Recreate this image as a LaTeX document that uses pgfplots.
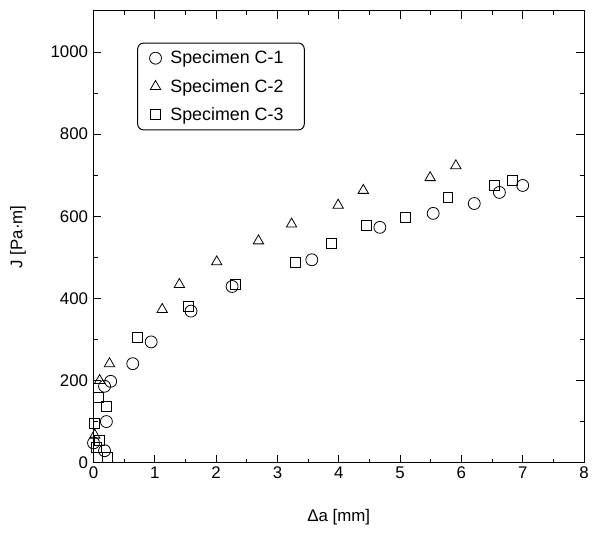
\documentclass[border=0pt]{standalone}
\usepackage{fontspec}
\setmainfont{Liberation Sans}
\usepackage{pgfplots}
\pgfplotsset{compat=1.18}
\begin{document}
\begin{tikzpicture}
\begin{axis}[
  scale only axis,
  width=493bp, height=454bp,
  xmin=0, xmax=8, ymin=0, ymax=1100,
  xtick={0,1,...,8}, ytick={0,200,...,1000},
  minor x tick num=1, minor y tick num=1,
  tick align=inside,
  major tick length=8bp, minor tick length=4bp,
  axis line style={line width=1pt},
  every tick/.style={black, line width=0.8pt},
  /pgf/number format/assume math mode=true,
  /pgf/number format/set thousands separator={},
  ticklabel style={font=\fontsize{17}{19}\selectfont},
  yticklabel style={xshift=-2bp},
  xticklabel style={yshift=-1bp},
  xlabel={Δa [mm]}, ylabel={J [Pa·m]},
  xlabel style={at={(0.5,0)}, anchor=center, yshift=-55bp},
  ylabel style={at={(0,0.5)}, anchor=center, yshift=76bp},
  label style={font=\fontsize{17}{19}\selectfont},
  legend style={at={(0.089,0.93)}, anchor=north west, rounded corners=6pt,
    draw=black, line width=1pt, font=\fontsize{18}{20}\selectfont,
    row sep=10pt, inner xsep=12pt, inner ysep=6pt,
    nodes={inner xsep=9pt},
    /tikz/every even column/.append style={column sep=8pt}},
  legend cell align=left,
  clip=false,
]
\addplot[only marks, mark=o, mark size=6bp, black, thick] coordinates {
(0.00,48) (0.18,29) (0.21,100) (0.18,186) (0.28,198) (0.64,241) (0.94,294)
(1.59,369) (2.26,429) (3.56,494) (4.67,573) (5.54,607) (6.21,631) (6.62,658) (7.00,675)
};
\addlegendentry{Specimen C-1}
\addplot[only marks, mark=triangle, mark size=6bp, black, thick] coordinates {
(0.02,67) (0.10,200) (0.26,241) (1.12,373) (1.40,434) (2.01,489) (2.69,540)
(3.23,581) (3.99,627) (4.40,663) (5.49,694) (5.91,723)
};
\addlegendentry{Specimen C-2}
\addplot[only marks, mark=square, mark size=5bp, black, thick] coordinates {
(0.05,36) (0.22,12) (0.02,96) (0.10,55) (0.21,137) (0.08,160) (0.72,306) (1.55,380) (2.32,434)
(3.29,487) (3.88,535) (4.45,578) (5.08,598) (5.78,646) (6.54,675) (6.83,687)
};
\addlegendentry{Specimen C-3}
\end{axis}
\path (current axis.south west) ++(-94bp,-72bp) coordinate (bbA);
\path (current axis.north east) ++(5bp,11bp) coordinate (bbB);
\useasboundingbox (bbA) rectangle (bbB);
\end{tikzpicture}
\end{document}
